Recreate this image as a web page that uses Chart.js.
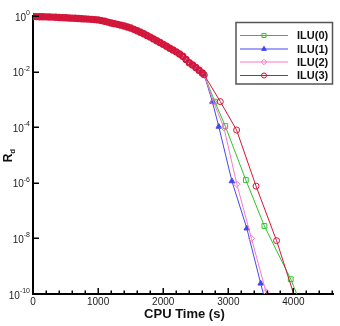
<!DOCTYPE html>
<html>
<head>
<meta charset="utf-8">
<script src="https://cdn.jsdelivr.net/npm/chart.js@4.4.1/dist/chart.umd.min.js"></script>
<style>
  html, body { margin: 0; padding: 0; background: #fff; }
  #wrap { position: relative; width: 340px; height: 326px; }
</style>
</head>
<body>
<div id="wrap"><canvas id="residual-canvas" width="340" height="326"></canvas></div>
<script>
// shared start of the convergence history (all four runs overlap here)
const startTime = [0, 50, 100, 150, 200, 250, 300, 350, 400, 450, 500, 550, 600, 650, 700, 750, 800, 850, 900, 950,
  1000, 1050, 1100, 1150, 1200, 1250, 1300, 1350, 1400, 1450, 1500, 1550, 1600, 1650, 1700, 1750, 1800, 1850, 1900, 1950,
  2000, 2050, 2100, 2150, 2200, 2250, 2300, 2350, 2400, 2450, 2500, 2550, 2600, 2630];
const startResidual = [0.955, 0.951, 0.944, 0.940, 0.933, 0.923, 0.912, 0.897, 0.883, 0.871, 0.861, 0.849, 0.838, 0.826, 0.813, 0.800, 0.785, 0.773, 0.759, 0.741,
  0.724, 0.684, 0.646, 0.603, 0.562, 0.531, 0.501, 0.468, 0.437, 0.403, 0.372, 0.331, 0.295, 0.260, 0.229, 0.200, 0.174, 0.150, 0.129, 0.111,
  0.0955, 0.0813, 0.0692, 0.0596, 0.0513, 0.0427, 0.0355, 0.0275, 0.0209, 0.0174, 0.0141, 0.0112, 0.0089, 0.0076];

const ilu0Time = [2792, 2953, 3269, 3554, 3959, 4340];
const ilu0Residual = [8.3e-4, 1.1e-4, 1.26e-6, 2.8e-8, 3.4e-10, 2.2e-12];
const ilu1Time = [2755, 2853, 3055, 3284, 3497, 3718];
const ilu1Residual = [8.3e-4, 1.05e-4, 1.15e-6, 2.3e-8, 2.4e-10, 2.2e-12];
const ilu2Time = [2773, 2933, 3131, 3355, 3578, 3779];
const ilu2Residual = [8.1e-4, 9.5e-5, 8.9e-7, 1.0e-8, 1.2e-10, 2.2e-12];
const ilu3Time = [2877, 3127, 3426, 3741, 4280];
const ilu3Residual = [8.3e-4, 7.9e-5, 7.6e-7, 8.3e-9, 1.0e-12];

const seriesNames = ["ILU(0)", "ILU(1)", "ILU(2)", "ILU(3)"];
const xTickValues = [0, 1000, 2000, 3000, 4000];
const xMinorStep = 200;
const yTickPowers = [0, -2, -4, -6, -8, -10];

(() => {
  const canvas = document.querySelector("#residual-canvas");
  if (!canvas || typeof Chart === "undefined") {
    return;
  }

  const toPoints = (times, values) => times.map((t, i) => ({ x: t, y: values[i] }));
  const withStart = (times, values) =>
    toPoints(startTime, startResidual).concat(toPoints(times, values));
  const inStart = (ctx) => ctx.dataIndex < startTime.length - 1;

  const styles = [
    { color: "#2fc42f", fill: "rgba(0,0,0,0)", point: "rect", radius: 3.4 },
    { color: "#4646f0", fill: "#4646f0", point: "triangle", radius: 3.2 },
    { color: "#f57ac8", fill: "rgba(0,0,0,0)", point: "rectRot", radius: 3.2 },
    { color: "#d4163a", fill: "rgba(0,0,0,0)", point: "circle", radius: 3 },
  ];
  const series = [
    withStart(ilu0Time, ilu0Residual),
    withStart(ilu1Time, ilu1Residual),
    withStart(ilu2Time, ilu2Residual),
    withStart(ilu3Time, ilu3Residual),
  ];

  const font = '"Liberation Sans", Arial, sans-serif';

  const decor = {
    id: "decor",
    afterDraw(chart) {
      const { ctx, chartArea } = chart;
      const xs = chart.scales.x;
      const ys = chart.scales.y;
      ctx.save();

      // tick marks, drawn inward
      ctx.strokeStyle = "#000";
      ctx.lineWidth = 1.5;
      ctx.beginPath();
      for (let v = 0; v <= xs.max; v += xMinorStep) {
        const px = Math.round(xs.getPixelForValue(v)) + 0.25;
        const len = v % 1000 === 0 ? 6 : 3.5;
        ctx.moveTo(px, chartArea.bottom);
        ctx.lineTo(px, chartArea.bottom - len);
      }
      yTickPowers.forEach((p) => {
        const py = Math.round(ys.getPixelForValue(Math.pow(10, p))) + 0.25;
        ctx.moveTo(chartArea.left, py);
        ctx.lineTo(chartArea.left + 6, py);
      });
      ctx.stroke();

      // x tick labels
      ctx.fillStyle = "#222";
      ctx.font = `10px ${font}`;
      ctx.textAlign = "center";
      ctx.textBaseline = "middle";
      xTickValues.forEach((v) => {
        ctx.fillText(String(v), xs.getPixelForValue(v), chartArea.bottom + 8);
      });

      // y tick labels with superscript exponent
      yTickPowers.forEach((p) => {
        const py = ys.getPixelForValue(Math.pow(10, p));
        const exp = p === 0 ? "0" : `-${-p}`;
        ctx.font = `7px ${font}`;
        const ew = ctx.measureText(exp).width;
        ctx.font = `10px ${font}`;
        const bw = ctx.measureText("10").width;
        const right = chartArea.left - 3;
        ctx.textAlign = "left";
        ctx.textBaseline = "alphabetic";
        ctx.fillText("10", right - ew - bw, py + 4.5);
        ctx.font = `7px ${font}`;
        ctx.fillText(exp, right - ew, py - 1);
      });

      // axis titles
      ctx.fillStyle = "#111";
      ctx.font = `bold 13px ${font}`;
      ctx.textAlign = "center";
      ctx.textBaseline = "middle";
      ctx.fillText("CPU Time (s)", (chartArea.left + chartArea.right) / 2 + 1, 314);

      ctx.save();
      ctx.translate(8, 156);
      ctx.rotate(-Math.PI / 2);
      ctx.textAlign = "left";
      ctx.textBaseline = "alphabetic";
      ctx.font = `bold 12px ${font}`;
      const rw = ctx.measureText("R").width;
      ctx.fillText("R", -rw / 2 - 2, 4);
      ctx.font = `bold 8px ${font}`;
      ctx.fillText("d", rw / 2 - 2, 7);
      ctx.restore();

      // legend box
      const box = { x: 236, y: 22.5, w: 96.5, h: 61.5 };
      ctx.fillStyle = "#fff";
      ctx.fillRect(box.x, box.y, box.w, box.h);
      ctx.strokeStyle = "#555";
      ctx.lineWidth = 1.5;
      ctx.strokeRect(box.x, box.y, box.w, box.h);
      const rows = [35.5, 49, 62, 75.5];
      seriesNames.forEach((name, i) => {
        const st = styles[i];
        const ry = rows[i];
        ctx.strokeStyle = st.color;
        ctx.lineWidth = 1;
        ctx.beginPath();
        ctx.moveTo(240, ry);
        ctx.lineTo(288, ry);
        ctx.stroke();
        ctx.fillStyle = st.fill;
        Chart.helpers.drawPoint(ctx, {
          pointStyle: st.point,
          radius: st.radius * 0.85,
          rotation: 0,
          borderWidth: 1,
        }, 264, ry);
        ctx.fillStyle = "#111";
        ctx.font = `bold 11px ${font}`;
        ctx.textAlign = "left";
        ctx.textBaseline = "middle";
        ctx.fillText(name, 297, ry + 0.5);
      });

      ctx.restore();
    },
  };

  new Chart(canvas, {
    type: "line",
    data: {
      datasets: series.map((data, i) => ({
        label: seriesNames[i],
        data,
        borderColor: styles[i].color,
        backgroundColor: styles[i].fill,
        borderWidth: 1,
        pointStyle: styles[i].point,
        // the dense shared start reads as one thick crimson band
        pointRadius: (ctx) => (inStart(ctx) ? (i === 3 ? 2.6 : 1.5) : styles[i].radius),
        pointBorderWidth: (ctx) => (inStart(ctx) && i === 3 ? 2.2 : 1),
        pointBorderColor: styles[i].color,
        pointBackgroundColor: styles[i].fill,
        fill: false,
        tension: 0,
        order: 3 - i,
        clip: { left: 0, top: 6, right: 6, bottom: 0 },
      })),
    },
    options: {
      responsive: false,
      animation: false,
      devicePixelRatio: 1,
      layout: {
        padding: { left: 33, top: 16, right: 3.5, bottom: 32 },
      },
      scales: {
        x: {
          type: "linear",
          min: 0,
          max: 4620,
          grid: { display: false, drawTicks: false },
          border: { display: true, color: "#000", width: 2 },
          ticks: { display: false },
        },
        y: {
          type: "logarithmic",
          min: 1e-10,
          max: 1,
          grid: { display: false, drawTicks: false },
          border: { display: true, color: "#000", width: 2 },
          ticks: { display: false },
        },
      },
      plugins: {
        legend: { display: false },
        tooltip: { enabled: false },
      },
    },
    plugins: [decor],
  });
})();
</script>
</body>
</html>
